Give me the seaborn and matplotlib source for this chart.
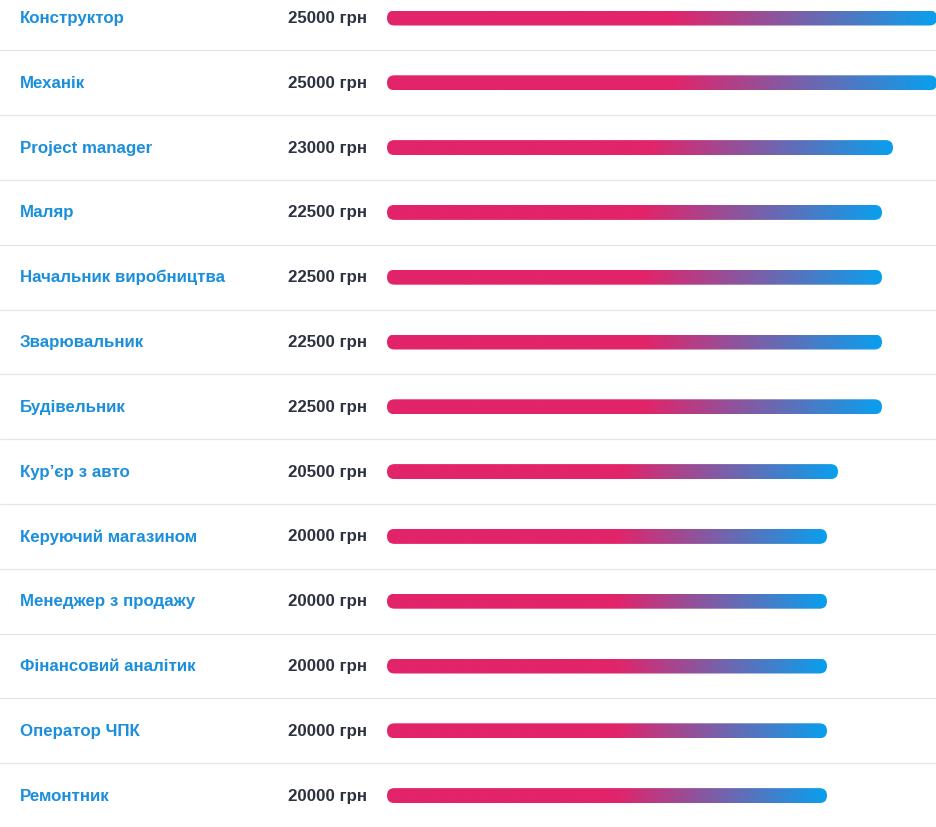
import numpy as np
import pandas as pd
import matplotlib
matplotlib.use("Agg")
import matplotlib.pyplot as plt
import seaborn as sns
from matplotlib.patches import FancyBboxPatch
from matplotlib.colors import LinearSegmentedColormap
from matplotlib.lines import Line2D

categories = ["Конструктор", "Механік", "Project manager", "Маляр",
              "Начальник виробництва", "Зварювальник", "Будівельник",
              "Кур’єр з авто", "Керуючий магазином", "Менеджер з продажу",
              "Фінансовий аналітик", "Оператор ЧПК", "Ремонтник"]
values = [25000, 25000, 23000, 22500, 22500, 22500, 22500,
          20500, 20000, 20000, 20000, 20000, 20000]
value_labels = [f"{v} грн" for v in values]

W, H, DPI = 937, 827, 100
sns.set_theme(style="white")
plt.rcParams['font.family'] = ['Liberation Sans', 'DejaVu Sans']

fig = plt.figure(figsize=(W / DPI, H / DPI), dpi=DPI)
fig.patch.set_facecolor("white")

row_h = 64.8
top_c = 18.0
n = len(categories)

# bar axes: x from px 387 to 937 covers 0..25000
left_px, right_px = 387, 937
ax = fig.add_axes([left_px / W, 0, (right_px - left_px) / W, 1])
df = pd.DataFrame({"cat": categories, "val": values})
bar_h = 15 / row_h
sns.barplot(data=df, x="val", y="cat", orient="h", ax=ax, width=bar_h,
            color="#e2246a", order=categories)
ax.set_xlim(0, 25000)
y_top = -top_c / row_h
y_bot = (H - top_c) / row_h
ax.set_ylim(y_bot, y_top)
ax.axis("off")

xpp = 25000 / (right_px - left_px)
ypp = 1 / row_h
aspect = ypp / xpp

cmap = LinearSegmentedColormap.from_list(
    "g", [(0, "#e2246a"), (0.52, "#e2246a"), (1.0, "#08a0ee")])
grad = np.linspace(0, 1, 512)[None, :]

for p in list(ax.patches):
    x0, y0, w, h = p.get_x(), p.get_y(), p.get_width(), p.get_height()
    p.set_visible(False)
    clip = FancyBboxPatch((x0, y0), w, h,
                          boxstyle=f"round,pad=0,rounding_size={7.5 * xpp}",
                          mutation_aspect=aspect, transform=ax.transData,
                          facecolor="none", edgecolor="none")
    ax.add_patch(clip)
    im = ax.imshow(grad, cmap=cmap, aspect="auto",
                   extent=[x0, x0 + w, y0 + h, y0], interpolation="bilinear",
                   clip_on=True)
    im.set_clip_path(clip)
ax.set_xlim(0, 25000)
ax.set_ylim(y_bot, y_top)

# separators and texts
for i in range(n):
    yc = 1 - (top_c + 0.5 + i * row_h) / H
    fig.text(20 / W, yc, categories[i], color="#1b8fdb", fontsize=12.2,
             fontweight="bold", ha="left", va="center")
    fig.text(367 / W, yc, value_labels[i], color="#2d3240", fontsize=12.2,
             fontweight="bold", ha="right", va="center")
    if i < n - 1:
        ys = 1 - (top_c + (i + 0.5) * row_h) / H
        fig.add_artist(Line2D([0, 1], [ys, ys], transform=fig.transFigure,
                              color="#e6e6e6", lw=0.9))

fig.savefig("out.png", dpi=DPI, facecolor="white")
